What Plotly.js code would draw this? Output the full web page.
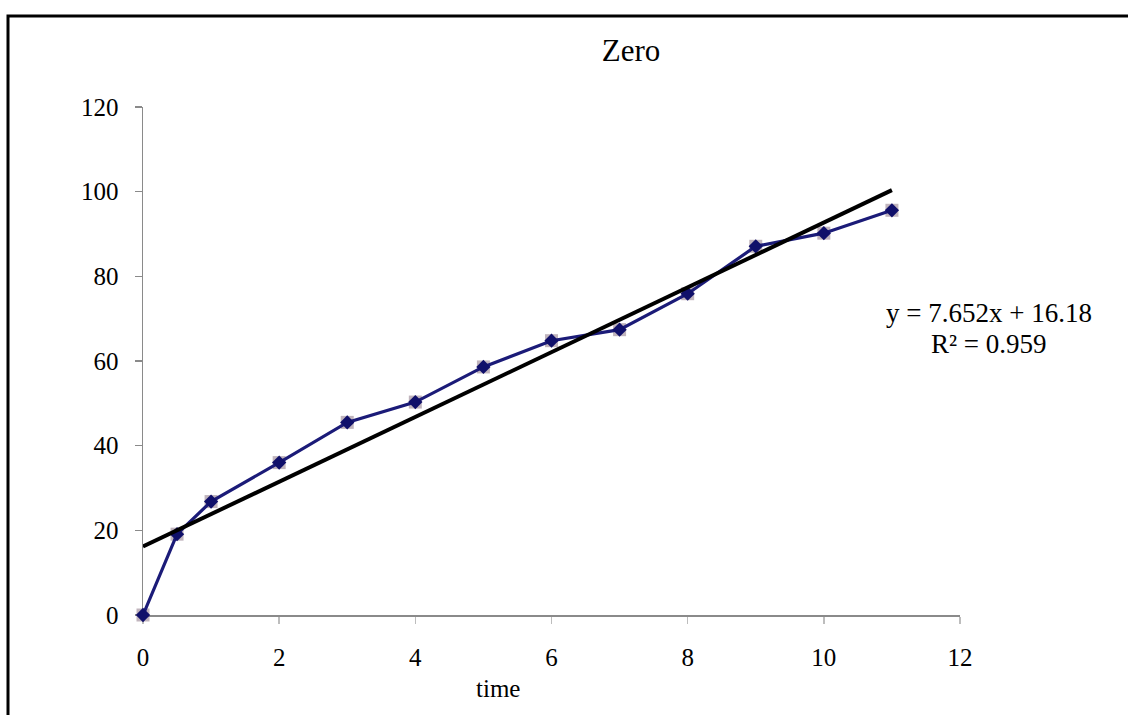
<!DOCTYPE html>
<html>
<head>
<meta charset="utf-8">
<script src="https://cdn.plot.ly/plotly-3.0.1.min.js"></script>
<style>
  html, body { margin: 0; padding: 0; background: #ffffff; }
  #chart { width: 1128px; height: 715px; }
</style>
</head>
<body>
<div id="chart"></div>
<script>
// ---- data ----
const timeValues = [0, 0.5, 1, 2, 3, 4, 5, 6, 7, 8, 9, 10, 11];
const zeroValues = [0, 19.1, 26.8, 36.0, 45.5, 50.3, 58.6, 64.8, 67.4, 75.9, 87.1, 90.2, 95.6];
const trendSlope = 7.652;
const trendIntercept = 16.18;
const trendR2 = 0.959;
const chartTitle = "Zero";
const xAxisTitle = "time";
const xTicks = [0, 2, 4, 6, 8, 10, 12];
const yTicks = [0, 20, 40, 60, 80, 100, 120];

// trendline built from the equation shown on the chart
const trendX = [timeValues[0], timeValues[timeValues.length - 1]];
const trendY = trendX.map(x => trendSlope * x + trendIntercept);

const W = 1128, H = 715;
const M = { l: 143, r: 168, t: 107, b: 100 };
const pw = W - M.l - M.r, ph = H - M.t - M.b;
const px = x => (x - M.l) / pw;          // pixel -> paper x
const py = y => (H - M.b - y) / ph;      // pixel -> paper y

const serif = "Liberation Serif, Times New Roman, serif";

const traces = [
  {
    x: timeValues, y: zeroValues, type: "scatter", mode: "markers",
    marker: { symbol: "square", size: 13, color: "rgba(150,130,145,0.6)" },
    cliponaxis: false, hoverinfo: "skip", showlegend: false
  },
  {
    x: timeValues, y: zeroValues, type: "scatter", mode: "lines+markers",
    line: { color: "#1b1b78", width: 3.2 },
    marker: { symbol: "diamond", size: 11, color: "#10106a" },
    cliponaxis: false, showlegend: false
  },
  {
    x: trendX, y: trendY, type: "scatter", mode: "lines",
    line: { color: "#000000", width: 4 },
    cliponaxis: false, showlegend: false
  }
];

const layout = {
  width: W, height: H,
  margin: M,
  paper_bgcolor: "#ffffff",
  plot_bgcolor: "#ffffff",
  showlegend: false,
  font: { family: serif, color: "#000000", size: 25 },
  title: {
    text: chartTitle,
    font: { family: serif, size: 31, color: "#000000" },
    xref: "container", yref: "container",
    x: 631 / W, xanchor: "center",
    y: 1 - 50 / H, yanchor: "middle"
  },
  xaxis: {
    range: [0, 12],
    tickvals: xTicks, ticktext: xTicks.map(String),
    showgrid: false, zeroline: false,
    showline: true, linecolor: "#8a8a8a", linewidth: 1.5,
    ticks: "outside", ticklen: 7, tickwidth: 1.5, tickcolor: "#bdbdbd",
    tickfont: { family: serif, size: 25, color: "#000000" },
    ticklabelstandoff: 12,
    layer: "below traces",
    fixedrange: true
  },
  yaxis: {
    range: [0, 120],
    tickvals: yTicks, ticktext: yTicks.map(String),
    showgrid: false, zeroline: false,
    showline: true, linecolor: "#8a8a8a", linewidth: 1.5,
    ticks: "outside", ticklen: 7, tickwidth: 1.5, tickcolor: "#8a8a8a",
    tickfont: { family: serif, size: 25, color: "#000000" },
    ticklabelstandoff: 11,
    layer: "below traces",
    fixedrange: true
  },
  annotations: [
    {
      text: xAxisTitle, xref: "paper", yref: "paper",
      x: px(498), y: py(688), xanchor: "center", yanchor: "middle",
      showarrow: false, font: { family: serif, size: 25, color: "#000000" }
    },
    {
      text: "y = " + trendSlope.toFixed(3) + "x + " + trendIntercept.toFixed(2),
      xref: "paper", yref: "paper",
      x: px(989), y: py(313), xanchor: "center", yanchor: "middle",
      showarrow: false, font: { family: serif, size: 27, color: "#000000" }
    },
    {
      text: "R² = " + trendR2.toFixed(3),
      xref: "paper", yref: "paper",
      x: px(989), y: py(344), xanchor: "center", yanchor: "middle",
      showarrow: false, font: { family: serif, size: 27, color: "#000000" }
    }
  ],
  shapes: [
    {
      type: "rect", xref: "paper", yref: "paper", layer: "above",
      x0: px(8), x1: px(1140), y0: py(16), y1: py(730),
      line: { color: "#000000", width: 3 }, fillcolor: "rgba(0,0,0,0)"
    }
  ]
};

Plotly.newPlot("chart", traces, layout, { displayModeBar: false, staticPlot: true });
</script>
</body>
</html>
